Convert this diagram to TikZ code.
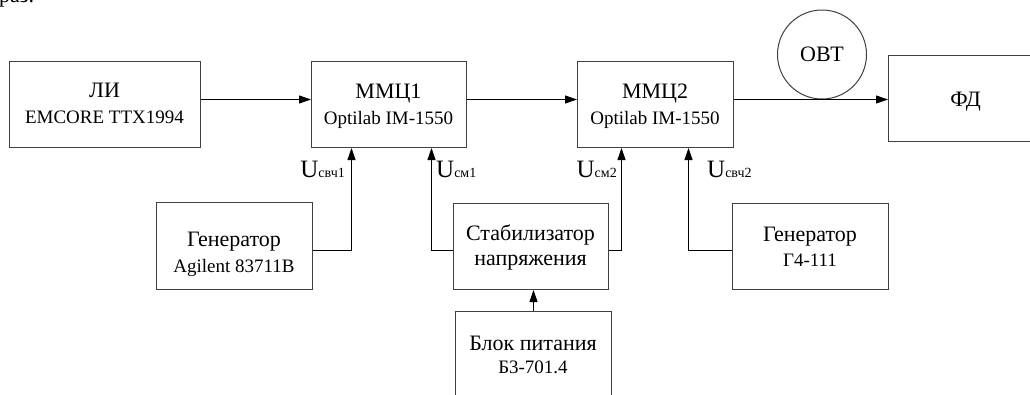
\documentclass[tikz,border=0pt]{standalone}
\usepackage{fontspec}
\setmainfont{Liberation Serif}
\usetikzlibrary{arrows.meta}
\begin{document}
\begin{tikzpicture}[x=1pt,y=-1pt,
  blk/.style={draw=black!75, line width=1pt, inner sep=0pt, anchor=north west, minimum width=155pt, minimum height=86pt},
  conn/.style={line width=0.9pt, -{Triangle[length=12pt,width=8pt]}},
  wire/.style={line width=0.9pt},
  big/.style={font=\fontsize{22}{26}\selectfont, anchor=base, inner sep=0pt},
  sm/.style={font=\fontsize{19}{22}\selectfont, anchor=base, inner sep=0pt},
  ulab/.style={font=\fontsize{25}{28}\selectfont, inner sep=0pt}]
\useasboundingbox (0,0) rectangle (1030,394);
\clip (0,0) rectangle (1030,394);
\fill[white] (0,0) rectangle (1030,394);
% cut-off text above
\node[big, anchor=base west] (raz) at (-1,2) {раз.};
% boxes
\node[blk, minimum width=191pt] (li) at (9,61) {};
\node[blk] (m1) at (311,61) {};
\node[blk, minimum width=156pt] (m2) at (577,61) {};
\node[blk] (fd) at (888,55) {};
\node[blk, minimum width=156pt, minimum height=87pt] (g1) at (156,202) {};
\node[blk] (st) at (453,203) {};
\node[blk, minimum width=156pt] (g2) at (732,203) {};
\node[blk, minimum width=156pt, minimum height=87pt] (bp) at (455,311) {};
\node[draw=black!75, line width=1pt, circle, minimum size=89pt, inner sep=0pt,
      font=\fontsize{22}{26}\selectfont] (ovt) at (822,54.5) {ОВТ};
% texts
\node[big] (li1) at (104.5,97) {ЛИ};
\node[sm]  (li2) at (104.5,123) {EMCORE TTX1994};
\node[big] (m11) at (388.5,98) {ММЦ1};
\node[sm]  (m12) at (388.5,124) {Optilab IM-1550};
\node[big] (m21) at (655,98) {ММЦ2};
\node[sm]  (m22) at (655,124) {Optilab IM-1550};
\node[big] (fd1) at (965.5,106) {ФД};
\node[big] (g11) at (234,246) {Генератор};
\node[sm]  (g12) at (234,272) {Agilent 83711B};
\node[big] (st1) at (530.5,240) {Стабилизатор};
\node[big] (st2) at (530.5,265) {напряжения};
\node[big] (g21) at (810,241) {Генератор};
\node[sm]  (g22) at (810,266) {Г4-111};
\node[big] (bp1) at (533,350) {Блок питания};
\node[sm]  (bp2) at (533,373) {Б3-701.4};
% labels
\node[ulab, anchor=base east] (u1) at (345,177) {U{\fontsize{14}{14}\selectfont свч1}};
\node[ulab, anchor=base west] (u2) at (436,177) {U{\fontsize{14}{14}\selectfont см1}};
\node[ulab, anchor=base east] (u3) at (617,177) {U{\fontsize{14}{14}\selectfont см2}};
\node[ulab, anchor=base west] (u4) at (707,177) {U{\fontsize{14}{14}\selectfont свч2}};
% main chain
\draw[conn] ([yshift=5pt]li.east) -- ([yshift=5pt]m1.west);
\draw[conn] ([yshift=5pt]m1.east) -- ([yshift=5pt]m2.west);
\draw[conn] ([yshift=5pt]m2.east) -- ([yshift=5pt]m2.east -| fd.west);
% control lines
\draw[conn] ([yshift=-4.5pt]g1.east) -| ([xshift=-37.5pt]m1.south);
\draw[conn] ([yshift=-4pt]st.west) -| ([xshift=42.5pt]m1.south);
\draw[conn] ([yshift=-4pt]st.east) -| ([xshift=-34pt]m2.south);
\draw[conn] ([yshift=-4pt]g2.west) -| ([xshift=33pt]m2.south);
\draw[conn] (bp.north) -- (bp.north |- st.south);
\end{tikzpicture}
\end{document}
